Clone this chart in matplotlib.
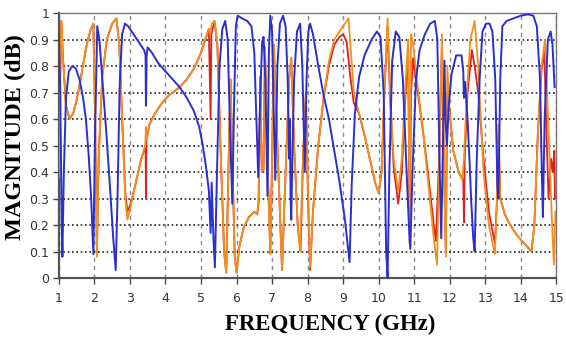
import numpy as np
import matplotlib
matplotlib.use("Agg")
import matplotlib.pyplot as plt

# ----------- traced curves (frequency GHz, magnitude) ---------
blue = [(1.00,0.92),(1.04,0.70),(1.08,0.20),(1.10,0.08),(1.14,0.40),(1.20,0.68),(1.28,0.78),(1.38,0.80),
        (1.48,0.79),(1.58,0.75),(1.68,0.68),(1.76,0.60),(1.84,0.46),(1.91,0.30),(1.97,0.09),(2.02,0.55),
        (2.08,0.95),(2.14,0.90),(2.24,0.72),(2.34,0.54),(2.44,0.34),(2.53,0.15),(2.60,0.03),(2.65,0.30),
        (2.71,0.72),(2.78,0.92),(2.86,0.96),(2.95,0.95),(3.10,0.92),(3.25,0.89),(3.40,0.86),(3.44,0.84),
        (3.45,0.65),(3.47,0.84),(3.50,0.87),(3.62,0.85),(3.80,0.81),(4.00,0.78),(4.20,0.75),(4.40,0.72),
        (4.60,0.68),(4.80,0.63),(4.95,0.57),(5.05,0.50),(5.14,0.42),(5.22,0.33),(5.27,0.17),(5.30,0.36),
        (5.35,0.15),(5.39,0.04),(5.45,0.40),(5.52,0.80),(5.60,0.94),(5.68,0.97),(5.75,0.90),(5.82,0.55),
        (5.88,0.28),(5.93,0.65),(5.98,0.95),(6.03,0.99),(6.15,0.98),(6.30,0.97),(6.42,0.95),(6.50,0.85),
        (6.56,0.60),(6.61,0.38),(6.67,0.70),(6.72,0.89),(6.76,0.91),(6.81,0.75),(6.87,0.31),(6.91,0.85),
        (6.95,0.99),(7.00,0.93),(7.05,0.60),(7.09,0.37),(7.15,0.80),(7.22,0.96),(7.31,0.99),(7.38,0.95),
        (7.44,0.75),(7.48,0.45),(7.50,0.60),(7.52,0.30),(7.54,0.22),(7.57,0.45),(7.62,0.75),(7.70,0.93),
        (7.79,0.96),(7.85,0.80),(7.92,0.40),(7.97,0.75),(8.02,0.93),(8.07,0.96),(8.15,0.92),(8.30,0.80),
        (8.45,0.69),(8.60,0.60),(8.75,0.48),(8.90,0.36),(9.05,0.22),(9.18,0.06),(9.24,0.35),(9.33,0.62),
        (9.45,0.76),(9.60,0.84),(9.80,0.90),(9.95,0.93),(10.05,0.91),(10.14,0.70),(10.21,0.10),(10.25,0.00),
        (10.30,0.40),(10.38,0.82),(10.48,0.93),(10.58,0.91),(10.68,0.75),(10.77,0.45),(10.85,0.20),(10.89,0.11),
        (10.95,0.40),(11.05,0.75),(11.15,0.86),(11.30,0.92),(11.45,0.96),(11.58,0.97),(11.65,0.90),(11.71,0.45),
        (11.76,0.15),(11.80,0.45),(11.85,0.82),(11.88,0.60),(11.92,0.50),(11.97,0.65),(12.05,0.77),(12.18,0.84),
        (12.33,0.84),(12.38,0.78),(12.40,0.68),(12.43,0.74),(12.50,0.60),(12.56,0.43),(12.60,0.30),(12.66,0.15),
        (12.70,0.10),(12.76,0.45),(12.84,0.75),(12.92,0.93),(13.02,0.96),(13.12,0.96),(13.20,0.93),(13.28,0.75),
        (13.34,0.35),(13.37,0.30),(13.42,0.75),(13.48,0.95),(13.60,0.97),(13.80,0.98),(14.00,0.99),(14.20,0.995),
        (14.35,0.99),(14.45,0.95),(14.54,0.75),(14.59,0.40),(14.62,0.23),(14.67,0.60),(14.76,0.90),(14.84,0.93),
        (14.89,0.88),(14.95,0.72)]

orange = [(1.00,0.38),(1.03,0.70),(1.07,0.97),(1.12,0.82),(1.20,0.65),(1.30,0.60),(1.40,0.62),(1.50,0.67),
          (1.60,0.74),(1.70,0.82),(1.80,0.89),(1.90,0.94),(1.97,0.96),(2.02,0.60),(2.07,0.08),(2.12,0.45),
          (2.22,0.76),(2.35,0.90),(2.50,0.96),(2.62,0.98),(2.70,0.88),(2.78,0.60),(2.87,0.30),(2.93,0.22),
          (3.02,0.27),(3.15,0.35),(3.30,0.44),(3.43,0.50),(3.45,0.57),(3.47,0.52),(3.55,0.58),(3.70,0.62),
          (3.90,0.66),(4.10,0.69),(4.40,0.72),(4.60,0.75),(4.80,0.79),(5.00,0.85),(5.12,0.90),(5.22,0.94),
          (5.26,0.92),(5.30,0.96),(5.38,0.97),(5.46,0.88),(5.56,0.45),(5.65,0.10),(5.71,0.02),(5.77,0.40),
          (5.83,0.75),(5.89,0.40),(5.95,0.08),(6.00,0.02),(6.08,0.12),(6.20,0.19),(6.35,0.23),(6.50,0.25),
          (6.58,0.24),(6.62,0.30),(6.67,0.76),(6.71,0.40),(6.76,0.41),(6.80,0.87),(6.88,0.40),(6.95,0.09),
          (7.00,0.45),(7.05,0.88),(7.15,0.50),(7.28,0.03),(7.38,0.40),(7.48,0.75),(7.54,0.83),(7.62,0.50),
          (7.72,0.20),(7.79,0.10),(7.87,0.45),(7.95,0.70),(8.01,0.35),(8.07,0.04),(8.15,0.25),(8.30,0.50),
          (8.45,0.68),(8.60,0.82),(8.75,0.90),(8.90,0.93),(9.05,0.96),(9.15,0.98),(9.22,0.85),(9.30,0.70),
          (9.45,0.62),(9.60,0.54),(9.75,0.45),(9.90,0.36),(10.00,0.32),(10.08,0.40),(10.16,0.70),(10.25,0.98),
          (10.32,0.70),(10.42,0.45),(10.55,0.33),(10.65,0.45),(10.75,0.72),(10.83,0.90),(10.87,0.20),(10.91,0.92),
          (10.97,0.88),(11.10,0.72),(11.25,0.55),(11.40,0.35),(11.55,0.15),(11.64,0.05),(11.70,0.40),(11.78,0.92),
          (11.84,0.40),(11.89,0.08),(11.93,0.80),(12.00,0.62),(12.10,0.48),(12.25,0.40),(12.35,0.37),(12.40,0.45),
          (12.48,0.70),(12.58,0.90),(12.70,0.97),(12.80,0.80),(12.95,0.40),(13.10,0.20),(13.27,0.09),(13.33,0.30),
          (13.37,0.58),(13.42,0.30),(13.55,0.24),(13.70,0.20),(13.90,0.16),(14.10,0.13),(14.30,0.10),(14.38,0.20),
          (14.48,0.55),(14.58,0.80),(14.68,0.90),(14.78,0.55),(14.88,0.20),(14.93,0.05),(14.97,0.25)]

red = [(1.00,0.40),(1.03,0.72),(1.07,0.97),(1.12,0.82),(1.20,0.65),(1.30,0.60),(1.40,0.62),(1.50,0.67),
       (1.60,0.74),(1.70,0.82),(1.80,0.89),(1.90,0.94),(1.97,0.96),(2.02,0.60),(2.07,0.10),(2.12,0.45),
       (2.22,0.76),(2.35,0.90),(2.50,0.96),(2.62,0.98),(2.70,0.88),(2.78,0.60),(2.87,0.32),(2.93,0.25),
       (3.02,0.28),(3.15,0.35),(3.30,0.44),(3.44,0.50),(3.45,0.30),(3.46,0.52),(3.55,0.58),(3.70,0.62),
       (3.90,0.66),(4.10,0.69),(4.40,0.72),(4.60,0.75),(4.80,0.79),(5.00,0.85),(5.12,0.90),(5.22,0.94),
       (5.27,0.60),(5.29,0.92),(5.38,0.97),(5.46,0.88),(5.56,0.45),(5.65,0.10),(5.71,0.02),(5.77,0.40),
       (5.83,0.75),(5.89,0.40),(5.95,0.08),(6.00,0.02),(6.08,0.12),(6.20,0.19),(6.35,0.23),(6.50,0.25),
       (6.58,0.24),(6.62,0.28),(6.67,0.76),(6.71,0.40),(6.76,0.41),(6.80,0.87),(6.88,0.40),(6.95,0.09),
       (7.00,0.45),(7.05,0.88),(7.15,0.50),(7.28,0.03),(7.38,0.40),(7.48,0.75),(7.54,0.83),(7.62,0.50),
       (7.72,0.20),(7.80,0.10),(7.87,0.45),(7.95,0.70),(8.01,0.30),(8.07,0.03),(8.15,0.25),(8.30,0.50),
       (8.45,0.68),(8.60,0.80),(8.75,0.88),(8.90,0.91),(9.00,0.92),(9.10,0.89),(9.20,0.76),(9.30,0.66),
       (9.45,0.62),(9.60,0.54),(9.75,0.45),(9.90,0.36),(10.00,0.32),(10.08,0.40),(10.16,0.70),(10.25,0.95),
       (10.32,0.68),(10.42,0.42),(10.55,0.28),(10.65,0.40),(10.75,0.68),(10.83,0.85),(10.87,0.13),(10.91,0.70),
       (10.97,0.83),(11.10,0.70),(11.25,0.55),(11.40,0.38),(11.55,0.20),(11.61,0.14),(11.70,0.45),(11.78,0.88),
       (11.84,0.40),(11.89,0.10),(11.93,0.70),(12.00,0.62),(12.10,0.48),(12.25,0.40),(12.38,0.37),(12.40,0.21),
       (12.42,0.45),(12.50,0.70),(12.62,0.86),(12.70,0.80),(12.80,0.70),(12.95,0.45),(13.10,0.25),(13.27,0.13),
       (13.33,0.30),(13.37,0.55),(13.42,0.30),(13.55,0.24),(13.70,0.20),(13.90,0.16),(14.10,0.13),(14.30,0.10),
       (14.38,0.20),(14.48,0.55),(14.58,0.78),(14.66,0.86),(14.72,0.55),(14.78,0.30),(14.85,0.45),(14.90,0.40),
       (14.94,0.48),(14.96,0.30)]

xticks = list(range(1, 16))
yticks = [0, 0.1, 0.2, 0.3, 0.4, 0.5, 0.6, 0.7, 0.8, 0.9, 1]
ytick_labels = ['0', '0.1', '0.2', '0.3', '0.4', '0.5', '0.6', '0.7', '0.8', '0.9', '1']

blue = np.array(blue)
orange = np.array(orange)
red = np.array(red)

tickfont = ['Liberation Sans Narrow', 'DejaVu Sans']

fig = plt.figure(figsize=(5.66, 3.38), dpi=100)
ax = fig.add_axes([0.104, 0.1775, 0.879, 0.784])

ax.plot(red[:, 0], red[:, 1], color='#e0201c', lw=1.3, zorder=3)
ax.plot(orange[:, 0], orange[:, 1], color='#f0901e', lw=1.3, zorder=4)
ax.plot(blue[:, 0], blue[:, 1], color='#2b2fcf', lw=1.4, zorder=5)

ax.set_xlim(1, 15)
ax.set_ylim(0, 1)
ax.set_xticks(xticks)
ax.set_yticks(yticks)
ax.set_yticklabels(ytick_labels)
for lab in ax.get_xticklabels() + ax.get_yticklabels():
    lab.set_family(tickfont)
    lab.set_fontsize(9)
    lab.set_color('#333333')
ax.tick_params(axis='both', length=4, width=1, color='#444444')
ax.tick_params(axis='x', pad=6)
ax.tick_params(axis='y', pad=3)

# grid: grey dashed verticals, dark dotted horizontals
ax.xaxis.grid(True, color='#8a8a8a', linestyle=(0, (3, 3)), lw=1.0, zorder=1)
ax.yaxis.grid(True, color='#222222', linestyle=(0, (1, 1.6)), lw=1.2, zorder=1)
ax.set_axisbelow(True)

for side in ['left', 'bottom']:
    ax.spines[side].set_color('#555555')
    ax.spines[side].set_linewidth(1.6)
for side in ['top', 'right']:
    ax.spines[side].set_color('#777777')
    ax.spines[side].set_linewidth(1.0)

ax.set_xlabel('FREQUENCY (GHz)', family='Liberation Serif', fontweight='bold', fontsize=16.5)
ax.set_ylabel('MAGNITUDE (dB)', family='Liberation Serif', fontweight='bold', fontsize=17.5)
ax.xaxis.set_label_coords(0.545, -0.135)
ax.yaxis.set_label_coords(-0.066, 0.53)

fig.savefig('out.png', dpi=100)
